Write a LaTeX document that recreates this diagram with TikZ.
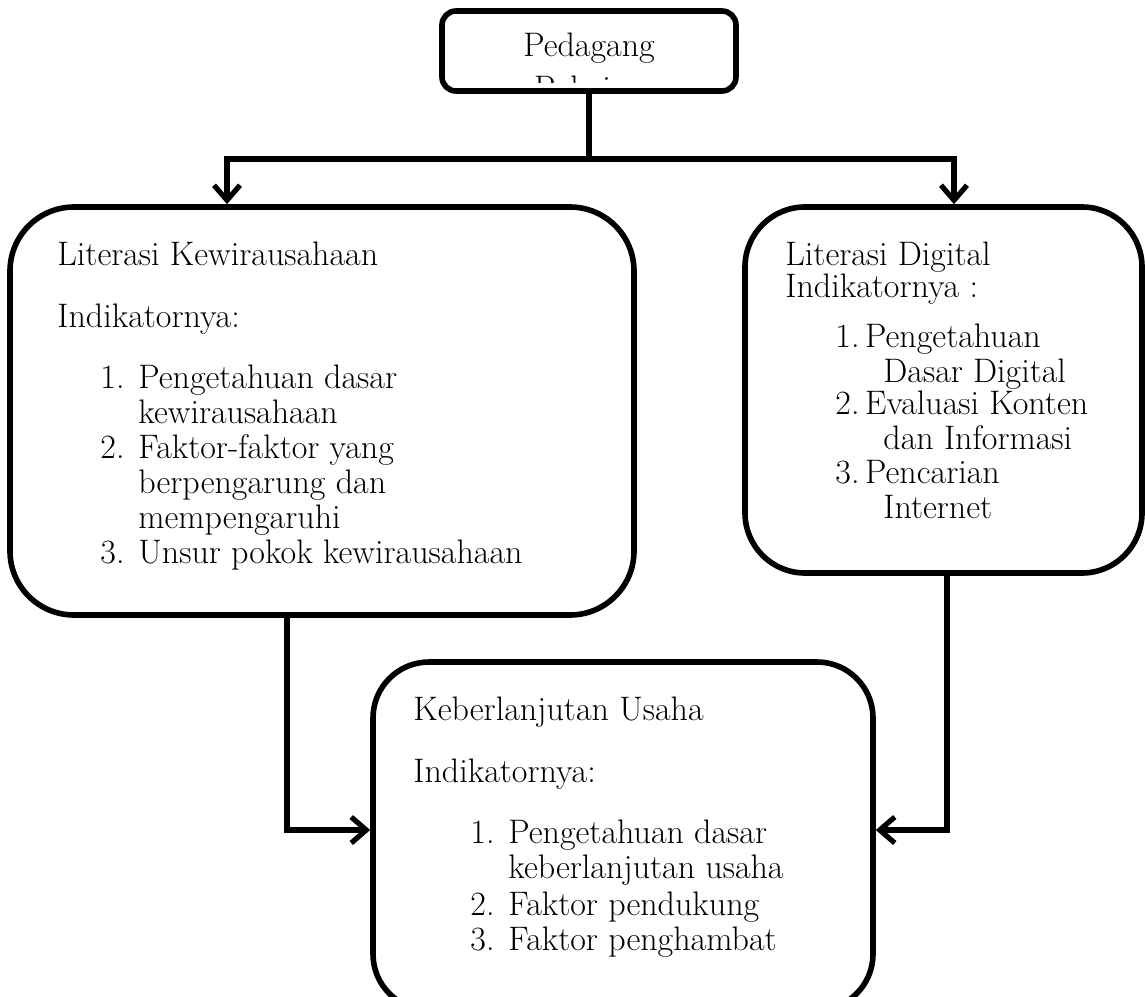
\documentclass[tikz,border=0pt]{standalone}
\usetikzlibrary{arrows.meta}

\tikzset{
    box/.style={draw, line width=2.8pt, inner sep=0pt},
    txt/.style={anchor=base west, inner sep=0pt, font=\fontsize{17}{19}\selectfont},
    conn/.style={line width=2.6pt},
    arr/.style={conn, -{Straight Barb[length=7.5pt,width=13pt]}},
}

\begin{document}
\begin{tikzpicture}[x=0.5pt,y=-0.5pt]
    \useasboundingbox (0,0) rectangle (1145,996);
    % boxes
    \node[box, rounded corners=7pt, minimum width=147pt, minimum height=40pt] (pedagang) at (589,51) {};
    \node[box, rounded corners=32pt, minimum width=312pt, minimum height=204pt] (kwu) at (322,411) {};
    \node[box, rounded corners=30pt, minimum width=198.5pt, minimum height=183pt] (digital) at (943.5,390) {};
    \node[box, rounded corners=28pt, minimum width=250pt, minimum height=174pt] (usaha) at (623,836) {};

    % top box text, second line cut off by the box
    \node[txt, anchor=base] (pedagangtxt) at (589,56) {Pedagang};
    \begin{scope}
        \clip (441,14) rectangle (735,82);
        \node[txt, anchor=base] (pakaiantxt) at (589,99) {Pakaian};
    \end{scope}

    % Literasi Kewirausahaan
    \node[txt] (kwuhead) at (57,265) {Literasi Kewirausahaan};
    \node[txt] (kwuind) at (57,327) {Indikatornya:};
    \node[txt] (kwuone) at (100,388) {1.};
    \node[txt] (kwuonea) at (138,388) {Pengetahuan dasar};
    \node[txt] (kwuoneb) at (138,423) {kewirausahaan};
    \node[txt] (kwutwo) at (100,458) {2.};
    \node[txt] (kwutwoa) at (138,458) {Faktor-faktor yang};
    \node[txt] (kwutwob) at (138,493) {berpengarung dan};
    \node[txt] (kwutwoc) at (138,528) {mempengaruhi};
    \node[txt] (kwuthree) at (100,563) {3.};
    \node[txt] (kwuthreea) at (138,563) {Unsur pokok kewirausahaan};

    % Literasi Digital
    \node[txt] (dighead) at (785,265) {Literasi Digital};
    \node[txt] (digind) at (785,297) {Indikatornya :};
    \node[txt] (digone) at (835,347) {1.\,Pengetahuan};
    \node[txt] (digoneb) at (883,382) {Dasar Digital};
    \node[txt] (digtwo) at (835,414) {2.\,Evaluasi Konten};
    \node[txt] (digtwob) at (883,449) {dan Informasi};
    \node[txt] (digthree) at (835,483) {3.\,Pencarian};
    \node[txt] (digthreeb) at (883,518) {Internet};

    % Keberlanjutan Usaha
    \node[txt] (ushead) at (413,720) {Keberlanjutan Usaha};
    \node[txt] (usind) at (413,782) {Indikatornya:};
    \node[txt] (usone) at (470,843) {1.};
    \node[txt] (usonea) at (508,843) {Pengetahuan dasar};
    \node[txt] (usoneb) at (508,878) {keberlanjutan usaha};
    \node[txt] (ustwo) at (470,915) {2.};
    \node[txt] (ustwoa) at (508,915) {Faktor pendukung};
    \node[txt] (usthree) at (470,950) {3.};
    \node[txt] (usthreea) at (508,950) {Faktor penghambat};

    % connectors
    \coordinate (split) at (589,159);
    \draw[conn] (pedagang.south) -- (split);
    \draw[arr] (split) -| (kwu.north -| 227,0);
    \draw[arr] (split) -| (digital.north -| 954,0);
    \draw[arr] (kwu.south -| 287,0) |- (usaha.west |- 0,830);
    \draw[arr] (digital.south -| 947,0) |- (usaha.east |- 0,830);
\end{tikzpicture}
\end{document}
